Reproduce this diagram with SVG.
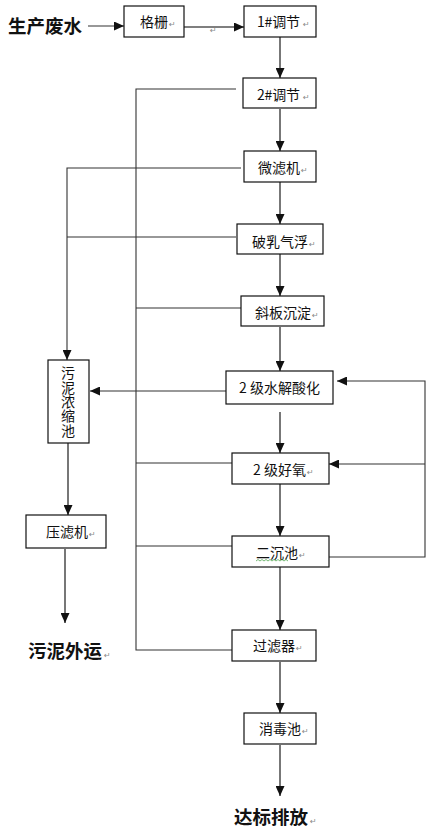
<svg xmlns="http://www.w3.org/2000/svg" width="448" height="838" viewBox="0 0 448 838">
<defs>
<marker id="ah" markerUnits="userSpaceOnUse" markerWidth="10" markerHeight="9" refX="10" refY="4.5" orient="auto">
<path d="M0,0 L10,4.5 L0,9 z" fill="#111"/>
</marker>
<style>
.box{fill:#fff;stroke:#111;stroke-width:1.2}
.lbl{font-family:"Noto Sans CJK SC","Noto Sans",sans-serif;font-size:14px;fill:#111}
.big{font-family:"Noto Sans CJK SC","Noto Sans",sans-serif;font-size:18.5px;font-weight:bold;fill:#111}
.pm{font-family:"DejaVu Sans",sans-serif;font-size:8px;fill:#888}
.flow{fill:none;stroke:#555;stroke-width:1.6}
.ln{fill:none;stroke:#333;stroke-width:1.1}
.vert{writing-mode:vertical-rl;text-orientation:upright;letter-spacing:0.3px}
</style>
</defs>
<rect width="448" height="838" fill="#fff"/>

<g id="connectors">
<line class="ln" x1="88" y1="26" x2="124" y2="26" stroke="#000" marker-end="url(#ah)"/>
<line class="flow" x1="184" y1="27" x2="244" y2="27" marker-end="url(#ah)"/>
<line class="flow" x1="280" y1="37" x2="280" y2="78" marker-end="url(#ah)"/>
<line class="flow" x1="280" y1="109" x2="280" y2="151" marker-end="url(#ah)"/>
<line class="flow" x1="280" y1="182" x2="280" y2="224" marker-end="url(#ah)"/>
<line class="flow" x1="280" y1="254" x2="280" y2="296" marker-end="url(#ah)"/>
<line class="flow" x1="280" y1="327" x2="280" y2="371" marker-end="url(#ah)"/>
<line class="flow" x1="280" y1="412" x2="280" y2="453" marker-end="url(#ah)"/>
<line class="flow" x1="280" y1="484" x2="280" y2="536" marker-end="url(#ah)"/>
<line class="flow" x1="280" y1="567" x2="280" y2="630" marker-end="url(#ah)"/>
<line class="flow" x1="280" y1="662" x2="280" y2="713" marker-end="url(#ah)"/>
<line class="flow" x1="280" y1="745" x2="280" y2="796" marker-end="url(#ah)"/>
<polyline class="ln" points="236,89 136,89 136,650 232,650"/>
<line class="ln" x1="136" y1="308" x2="241" y2="308"/>
<line class="ln" x1="136" y1="463" x2="232" y2="463"/>
<line class="ln" x1="136" y1="546" x2="232" y2="546"/>
<polyline class="ln" points="241,168 67,168 67,360" marker-end="url(#ah)"/>
<line class="ln" x1="236" y1="237" x2="67" y2="237"/>
<line class="ln" x1="226" y1="391" x2="90" y2="391" marker-end="url(#ah)"/>
<line class="flow" x1="68" y1="443" x2="68" y2="515" marker-end="url(#ah)"/>
<line class="flow" x1="65" y1="549" x2="65" y2="623" marker-end="url(#ah)"/>
<polyline class="ln" points="329,557 425,557 425,381 337,381" marker-end="url(#ah)"/>
<line class="ln" x1="425" y1="464" x2="329" y2="464" marker-end="url(#ah)"/>
<text class="pm" x="210" y="33">↵</text>
</g>

<g id="src"><text class="big" x="8" y="33">生产废水</text></g>
<g id="n-geshan"><rect class="box" x="124" y="6" width="60" height="31"/><text class="lbl" x="140" y="27">格栅</text><text class="pm" x="169" y="27">↵</text></g>
<g id="n-tj1"><rect class="box" x="244" y="6" width="72" height="31"/><text class="lbl" x="257" y="27" textLength="43">1#调节</text><text class="pm" x="303" y="27">↵</text></g>
<g id="n-tj2"><rect class="box" x="243" y="78" width="73" height="30"/><text class="lbl" x="257" y="100" textLength="43">2#调节</text><text class="pm" x="303" y="100">↵</text></g>
<g id="n-wlj"><rect class="box" x="244" y="151" width="72" height="31"/><text class="lbl" x="258" y="173">微滤机</text><text class="pm" x="301" y="173">↵</text></g>
<g id="n-pr"><rect class="box" x="237" y="224" width="86" height="30"/><text class="lbl" x="252" y="247">破乳气浮</text><text class="pm" x="309" y="247">↵</text></g>
<g id="n-xb"><rect class="box" x="241" y="296" width="83" height="30"/><text class="lbl" x="255" y="318">斜板沉淀</text><text class="pm" x="312" y="318">↵</text></g>
<g id="n-sj"><rect class="box" x="226" y="371" width="107" height="33"/><text class="lbl" x="239" y="393">2 级水解酸化</text></g>
<g id="n-hy"><rect class="box" x="232" y="453" width="97" height="31"/><text class="lbl" x="253" y="475">2 级好氧</text><text class="pm" x="307" y="475">↵</text></g>
<g id="n-ec"><rect class="box" x="232" y="536" width="97" height="31"/><text class="lbl" x="256" y="558">二沉池</text><text class="pm" x="299" y="558">↵</text>
<polyline points="256,561 258,559.5 260,561 262,559.5 264,561 266,559.5 268,561 270,559.5 272,561 274,559.5 276,561 278,559.5 280,561 282,559.5 284,561 286,559.5 288,561" fill="none" stroke="#5a5" stroke-width="0.8"/></g>
<g id="n-wn"><rect class="box" x="48" y="360" width="41" height="83"/>
<text class="lbl vert" x="68" y="366" font-size="14.5">污泥浓缩池</text></g>
<g id="n-ylj"><rect class="box" x="26" y="515" width="80" height="33"/><text class="lbl" x="46" y="537">压滤机</text><text class="pm" x="89" y="537">↵</text></g>
<g id="sink1"><text class="big" x="28" y="658">污泥外运</text><text class="pm" x="104" y="658">↵</text></g>
<g id="n-glq"><rect class="box" x="232" y="630" width="84" height="31"/><text class="lbl" x="253" y="651">过滤器</text><text class="pm" x="296" y="651">↵</text></g>
<g id="n-xd"><rect class="box" x="244" y="713" width="72" height="31"/><text class="lbl" x="259" y="734">消毒池</text><text class="pm" x="302" y="734">↵</text></g>
<g id="sink2"><text class="big" x="234" y="824">达标排放</text><text class="pm" x="310" y="824">↵</text></g>
</svg>
